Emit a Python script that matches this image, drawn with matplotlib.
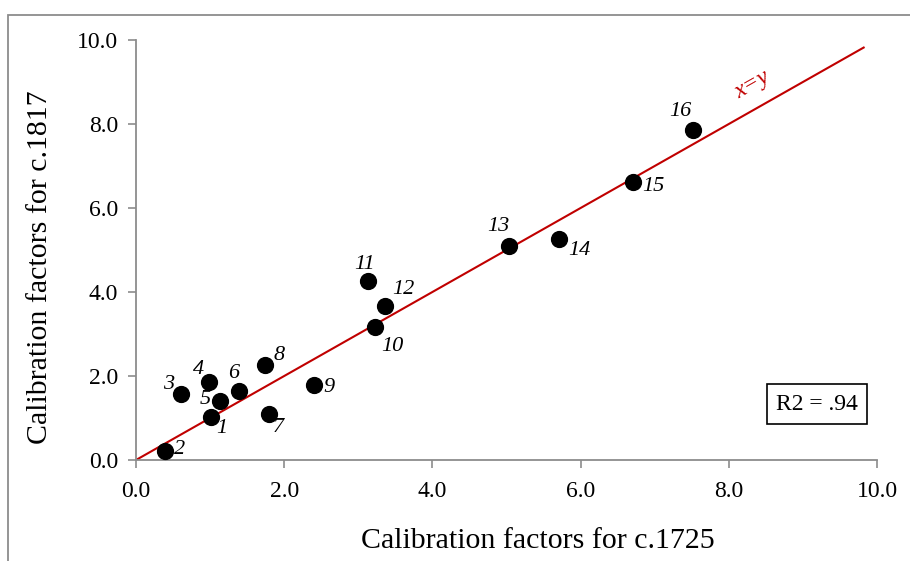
import matplotlib
matplotlib.use("Agg")
import matplotlib.pyplot as plt
from matplotlib.patches import Rectangle

plt.rcParams['font.family'] = ['Liberation Serif', 'DejaVu Serif']

labels = ['1', '2', '3', '4', '5', '6', '7', '8', '9', '10', '11', '12', '13', '14', '15', '16']
x_1725 = [1.01, 0.39, 0.61, 0.99, 1.13, 1.39, 1.79, 1.74, 2.40, 3.23, 3.13, 3.36, 5.03, 5.71, 6.71, 7.52]
y_1817 = [1.02, 0.21, 1.57, 1.86, 1.40, 1.64, 1.10, 2.26, 1.79, 3.17, 4.26, 3.67, 5.10, 5.26, 6.62, 7.86]
# label offsets in pixels (dx, dy), label centre relative to point
offsets = [(11, -11), (15, 2), (-13, 10), (-11, 12), (-15, 2), (-5, 18), (10, -14), (14, 10), (15, -3),
           (17, -20), (-3, 17), (18, 16), (-10, 19), (20, -11), (20, -5), (-13, 18)]
ticks = [0, 2, 4, 6, 8, 10]
line_xy = [0, 9.82]
r2_text = 'R2 = .94'

fig = plt.figure(figsize=(9.10, 5.61), dpi=100)
fig.patches.append(Rectangle((8/910, -0.1), 1.2, 1 - 15/561 + 0.1, transform=fig.transFigure,
                             fill=False, edgecolor='#8c8c8c', linewidth=1.3))
ax = fig.add_axes([136/910, 101/561, 741/910, 420/561])

ax.plot(line_xy, line_xy, color='#c00000', linewidth=1.5, zorder=2)
ax.scatter(x_1725, y_1817, s=130, color='black', zorder=3)
for lab, xv, yv, (dx, dy) in zip(labels, x_1725, y_1817, offsets):
    ax.annotate(lab, (xv, yv), xytext=(dx, dy), textcoords='offset pixels',
                fontsize=16, fontstyle='italic', va='center', ha='center')

ax.text(8.31, 8.93, 'x=y', color='#c00000', fontsize=17, fontstyle='italic',
        rotation=29.5, ha='center', va='center', rotation_mode='anchor')

ax.text(9.19, 1.33, r2_text, fontsize=17, ha='center', va='center',
        bbox=dict(boxstyle='square,pad=0.4', facecolor='white', edgecolor='black', linewidth=1.2))

ax.set_xlim(0, 10)
ax.set_ylim(0, 10)
ax.set_xticks(ticks)
ax.set_yticks(ticks)
ax.set_xticklabels([f'{t:.1f}' for t in ticks], fontsize=17)
ax.set_yticklabels([f'{t:.1f}' for t in ticks], fontsize=17)
ax.tick_params(direction='out', length=6, color='#8c8c8c', width=1.2)
ax.tick_params(axis='x', pad=9)
ax.tick_params(axis='y', pad=7)
for s in ['top', 'right']:
    ax.spines[s].set_visible(False)
for s in ['left', 'bottom']:
    ax.spines[s].set_color('#8c8c8c')
    ax.spines[s].set_linewidth(1.3)

ax.set_xlabel('Calibration factors for c.1725', fontsize=21.5, va='center', ha='center')
ax.set_ylabel('Calibration factors for c.1817', fontsize=21.5, va='center', ha='center')
ax.xaxis.set_label_coords(0.5425, -0.193)
ax.yaxis.set_label_coords(-0.1296, 0.46)

fig.savefig('out.png', dpi=100)
